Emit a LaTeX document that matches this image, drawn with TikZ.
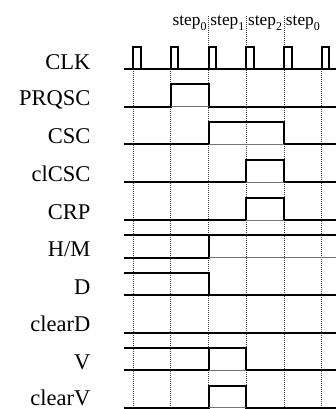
\documentclass[tikz,border=0pt]{standalone}
\usepackage{fontspec}
\setmainfont{Liberation Serif}
\newcommand{\stp}[1]{step\raisebox{-0.3em}{\fontsize{12}{12}\selectfont #1}}
\begin{document}
\begin{tikzpicture}[x=1pt,y=-1pt,
  sig/.style={black,line width=2pt,line join=miter,line cap=rect},
  base/.style={black!55,line width=0.9pt},
  grid/.style={black!75,line width=0.7pt,dash pattern=on 1pt off 1pt},
  lbl/.style={anchor=base east,inner sep=0pt,text depth=0pt,font=\fontsize{22.5}{24}\selectfont},
  steplbl/.style={anchor=base,inner sep=0pt,text depth=0pt,font=\fontsize{17.3}{18}\selectfont}]
\useasboundingbox (0,0) rectangle (336,409);
% grid lines
\foreach \x in {208.5,246.25,284} \draw[grid] (\x,16) -- (\x,409);
\foreach \x in {133,170.75,321.75} \draw[grid] (\x,69) -- (\x,409);
% step labels
\node[steplbl] (s0) at (189.6,25.7) {\stp{0}};
\node[steplbl] (s1) at (227.4,25.7) {\stp{1}};
\node[steplbl] (s2) at (265.1,25.7) {\stp{2}};
\node[steplbl] (s3) at (302.9,25.7) {\stp{0}};
% labels
\node[lbl] (lclk) at (90.5,69.5) {CLK};
\node[lbl] (lprq) at (90.5,105.8) {PRQSC};
\node[lbl] (lcsc) at (90.5,143.5) {CSC};
\node[lbl] (lclcsc) at (90.5,181.5) {clCSC};
\node[lbl] (lcrp) at (90.5,219.2) {CRP};
\node[lbl] (lhm) at (90.5,256.9) {H/M};
\node[lbl] (ld) at (90.5,294.2) {D};
\node[lbl] (lcld) at (90.5,331.9) {clearD};
\node[lbl] (lv) at (90.5,369.2) {V};
\node[lbl] (lclv) at (90.5,405) {clearV};
% CLK
\draw[sig] (125.3,69) -- (336,69);
\foreach \x in {133,170.75,208.5,246.25,284,321.75}
  \draw[sig] (\x,69) -- (\x,46.7) -- ({\x+7.5},46.7) -- ({\x+7.5},69);
% PRQSC
\draw[sig] (125.3,106.7) -- (170.75,106.7) -- (170.75,84.3) -- (208.5,84.3) -- (208.5,106.7) -- (336,106.7);
\draw[base] (170.75,106.7) -- (208.5,106.7);
% CSC
\draw[sig] (125.3,144.3) -- (208.5,144.3) -- (208.5,121.9) -- (284,121.9) -- (284,144.3) -- (336,144.3);
\draw[base] (208.5,144.3) -- (284,144.3);
% clCSC
\draw[sig] (125.3,182.3) -- (246.25,182.3) -- (246.25,159.9) -- (284,159.9) -- (284,182.3) -- (336,182.3);
\draw[base] (246.25,182.3) -- (284,182.3);
% CRP
\draw[sig] (125.3,220) -- (246.25,220) -- (246.25,197.6) -- (284,197.6) -- (284,220) -- (336,220);
\draw[base] (246.25,220) -- (284,220);
% H/M
\draw[sig] (125.3,235.3) -- (336,235.3);
\draw[sig] (125.3,257.7) -- (208.5,257.7) -- (208.5,235.3);
\draw[base] (208.5,257.7) -- (336,257.7);
% D
\draw[sig] (125.3,273.3) -- (208.5,273.3) -- (208.5,295) -- (336,295);
\draw[sig] (125.3,295) -- (208.5,295);
% clearD
\draw[sig] (125.3,332.7) -- (336,332.7);
% V
\draw[sig] (125.3,348.3) -- (246.25,348.3) -- (246.25,370) -- (336,370);
\draw[sig] (125.3,370) -- (208.5,370) -- (208.5,348.3);
\draw[base] (208.5,370) -- (246.25,370);
% clearV
\draw[sig] (125.3,407.7) -- (208.5,407.7) -- (208.5,385.6) -- (246.25,385.6) -- (246.25,407.7) -- (336,407.7);
\draw[base] (208.5,407.7) -- (246.25,407.7);
\end{tikzpicture}
\end{document}
